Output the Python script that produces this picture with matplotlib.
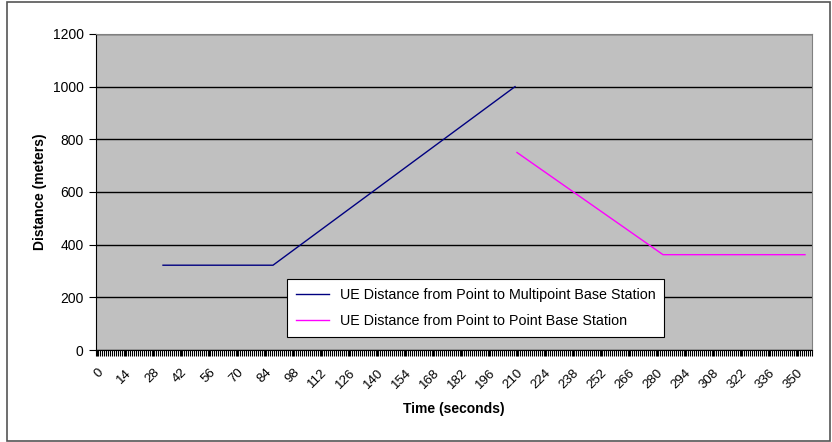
import numpy as np
import matplotlib.pyplot as plt
from matplotlib.patches import Rectangle

plt.rcParams['font.family'] = ['Liberation Sans', 'DejaVu Sans']

# Kategooriad (aeg sekundites) ja seeriate murdepunktid
n_kategooriad = 358
aeg_sildid = list(range(0, 351, 14))

multi_aeg = [33, 88, 209]
multi_kaugus = [322, 322, 1000]

p2p_aeg = [210, 283, 354]
p2p_kaugus = [750, 362, 362]

fig = plt.figure(figsize=(8.32, 4.42), dpi=100)
fig.patches.append(Rectangle((7 / 832, 1 / 442), 823 / 832, 439 / 442,
                             transform=fig.transFigure, fill=False,
                             edgecolor='#555555', linewidth=1.2))
ax = fig.add_axes([96 / 832, 1 - 350 / 442, 716 / 832, 316 / 442])
ax.set_facecolor('#c0c0c0')

x_multi = np.array(multi_aeg) + 0.5
x_p2p = np.array(p2p_aeg) + 0.5
ax.plot(x_multi, multi_kaugus, color='#000080', linewidth=1,
        label='UE Distance from Point to Multipoint Base Station')
ax.plot(x_p2p, p2p_kaugus, color='#ff00ff', linewidth=1,
        label='UE Distance from Point to Point Base Station')

ax.set_xlim(0, n_kategooriad)
ax.set_ylim(0, 1200)
ax.set_yticks(range(0, 1201, 200))
ax.yaxis.grid(True, color='black', linewidth=1)
ax.set_axisbelow(True)

ax.set_xticks(np.arange(n_kategooriad + 1), minor=True)
ax.set_xticks(np.array(aeg_sildid) + 0.5)
ax.set_xticklabels([str(a) for a in aeg_sildid], rotation=45, ha='right',
                   rotation_mode='anchor', fontsize=9.5)
ax.tick_params(axis='x', which='minor', length=4, width=0.8, direction='out')
ax.tick_params(axis='x', which='major', length=4, width=0.8, pad=8)
ax.tick_params(axis='y', length=5, width=0.8, labelsize=10, pad=4)

for s in ['top', 'right']:
    ax.spines[s].set_color('#808080')
for s in ['left', 'bottom']:
    ax.spines[s].set_color('black')

ax.set_xlabel('Time (seconds)', fontweight='bold', fontsize=10, labelpad=8)
ax.set_ylabel('Distance (meters)', fontweight='bold', fontsize=10, labelpad=4)

leg = ax.legend(loc='lower left', bbox_to_anchor=(0.257, 0.02), fontsize=10.3,
                fancybox=False, framealpha=1, edgecolor='black',
                handlelength=2.3, borderpad=0.6, labelspacing=0.85)
leg.get_frame().set_linewidth(0.8)

plt.savefig('out.png', dpi=100)
